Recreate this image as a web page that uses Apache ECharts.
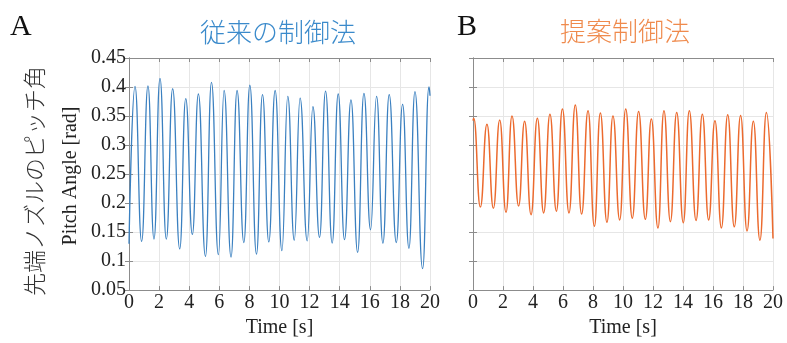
<!DOCTYPE html>
<html>
<head>
<meta charset="utf-8">
<script src="https://cdn.jsdelivr.net/npm/echarts@6/dist/echarts.min.js"></script>
<style>
  html, body { margin: 0; padding: 0; background: #fff; }
  #chart { width: 787px; height: 343px; }
</style>
</head>
<body>
<div id="chart"></div>
<script>
// peaks and troughs (time in s, pitch angle in rad)
const convTime = [0, 0.4, 0.84, 1.26, 1.66, 2.06, 2.48, 2.9, 3.37, 3.77, 4.21, 4.61, 5.08, 5.48, 5.94, 6.32, 6.78, 7.18, 7.63, 8.03, 8.47, 8.87, 9.29, 9.71, 10.16, 10.55, 10.98, 11.37, 11.84, 12.22, 12.66, 13.06, 13.5, 13.9, 14.32, 14.75, 15.19, 15.61, 16.05, 16.45, 16.87, 17.29, 17.76, 18.18, 18.6, 19.0, 19.51, 19.93, 20];
const convAngle = [0.13, 0.401, 0.134, 0.402, 0.138, 0.415, 0.138, 0.397, 0.121, 0.38, 0.146, 0.388, 0.108, 0.408, 0.111, 0.394, 0.107, 0.394, 0.132, 0.403, 0.112, 0.387, 0.133, 0.394, 0.118, 0.384, 0.136, 0.381, 0.135, 0.366, 0.141, 0.393, 0.131, 0.388, 0.137, 0.378, 0.115, 0.389, 0.154, 0.384, 0.131, 0.387, 0.132, 0.37, 0.122, 0.392, 0.087, 0.4, 0.385];

const propTime = [0, 0.05, 0.49, 0.93, 1.36, 1.78, 2.2, 2.6, 3.04, 3.44, 3.87, 4.29, 4.71, 5.13, 5.56, 5.96, 6.4, 6.82, 7.24, 7.67, 8.09, 8.49, 8.93, 9.33, 9.78, 10.18, 10.62, 11.04, 11.49, 11.89, 12.33, 12.73, 13.16, 13.58, 14.02, 14.42, 14.87, 15.29, 15.71, 16.13, 16.56, 16.98, 17.42, 17.84, 18.27, 18.69, 19.13, 19.56, 20];
const propAngle = [0.342, 0.346, 0.193, 0.336, 0.191, 0.343, 0.184, 0.35, 0.195, 0.341, 0.18, 0.346, 0.183, 0.353, 0.186, 0.362, 0.183, 0.369, 0.181, 0.359, 0.16, 0.355, 0.167, 0.35, 0.171, 0.362, 0.174, 0.358, 0.172, 0.345, 0.157, 0.359, 0.168, 0.356, 0.166, 0.359, 0.17, 0.353, 0.171, 0.342, 0.157, 0.352, 0.159, 0.351, 0.152, 0.341, 0.136, 0.356, 0.139];

const serif = "Liberation Serif";
const gridColor = "#e6e6e6";
const boxColor = "#8c8c8c";

function xAxisFor(gridIndex, isTop) {
    return {
        type: "value",
        gridIndex: gridIndex,
        position: isTop ? "top" : "bottom",
        min: 0,
        max: 20,
        interval: 2,
        name: isTop ? "" : "Time [s]",
        nameLocation: "middle",
        nameGap: 23,
        nameTextStyle: { fontFamily: serif, fontSize: 20, color: "#222" },
        axisLine: { show: true, lineStyle: { color: boxColor } },
        axisTick: { show: true, inside: true, length: 4, lineStyle: { color: boxColor } },
        axisLabel: {
            show: !isTop,
            fontFamily: serif,
            fontSize: 20,
            color: "#222",
            margin: 3,
        },
        splitLine: { show: !isTop, lineStyle: { color: gridColor } },
    };
}

function yAxisFor(gridIndex, showLabels, isRight) {
    return {
        type: "value",
        gridIndex: gridIndex,
        position: isRight ? "right" : "left",
        min: 0.05,
        max: 0.45,
        interval: 0.05,
        axisLine: { show: true, lineStyle: { color: boxColor } },
        axisTick: { show: true, inside: true, length: 4, lineStyle: { color: boxColor } },
        axisLabel: {
            show: showLabels && !isRight,
            fontFamily: serif,
            fontSize: 20,
            color: "#222",
            margin: 3,
            formatter: (v) => String(Math.round(v * 100) / 100),
        },
        splitLine: { show: !isRight, lineStyle: { color: gridColor } },
    };
}

const chart = echarts.init(document.getElementById("chart"), null, { renderer: "canvas" });

const option = {
    backgroundColor: "#fff",
    animation: false,
    grid: [
        { left: 129, right: 357, top: 58, bottom: 48 },
        { left: 473, right: 14, top: 58, bottom: 48 },
    ],
    xAxis: [xAxisFor(0, false), xAxisFor(1, false), xAxisFor(0, true), xAxisFor(1, true)],
    yAxis: [yAxisFor(0, true, false), yAxisFor(1, false, false), yAxisFor(0, false, true), yAxisFor(1, false, true)],
    graphic: [
        {
            type: "text", left: 10, top: 12,
            style: { text: "A", font: "30px 'Liberation Serif'", fill: "#111" },
        },
        {
            type: "text", left: 457, top: 12,
            style: { text: "B", font: "30px 'Liberation Serif'", fill: "#111" },
        },
        {
            type: "text", x: 278, y: 32,
            style: { text: "従来の制御法", font: "300 26px 'Noto Sans CJK JP'", fill: "#3a8acb", align: "center", verticalAlign: "middle" },
        },
        {
            type: "text", x: 625, y: 31,
            style: { text: "提案制御法", font: "300 26px 'Noto Sans CJK JP'", fill: "#ef8a4c", align: "center", verticalAlign: "middle" },
        },
        {
            type: "text", x: 71, y: 176, rotation: Math.PI / 2,
            style: { text: "Pitch Angle [rad]", font: "20px 'Liberation Serif'", fill: "#222", align: "center", verticalAlign: "middle" },
        },
        {
            type: "text", x: 34, y: 181, rotation: Math.PI / 2,
            style: { text: "先端ノズルのピッチ角", font: "300 23px 'Noto Sans CJK JP'", fill: "#333", align: "center", verticalAlign: "middle" },
        },
    ],
    series: [
        {
            name: "従来の制御法",
            type: "line",
            xAxisIndex: 0,
            yAxisIndex: 0,
            data: convTime.map((t, i) => [t, convAngle[i]]),
            smooth: 0.5,
            smoothMonotone: "x",
            showSymbol: false,
            lineStyle: { color: "#3b80c0", width: 1.3 },
        },
        {
            name: "提案制御法",
            type: "line",
            xAxisIndex: 1,
            yAxisIndex: 1,
            data: propTime.map((t, i) => [t, propAngle[i]]),
            smooth: 0.5,
            smoothMonotone: "x",
            showSymbol: false,
            lineStyle: { color: "#ec6a2e", width: 1.5 },
        },
    ],
};

chart.setOption(option);
</script>
</body>
</html>
